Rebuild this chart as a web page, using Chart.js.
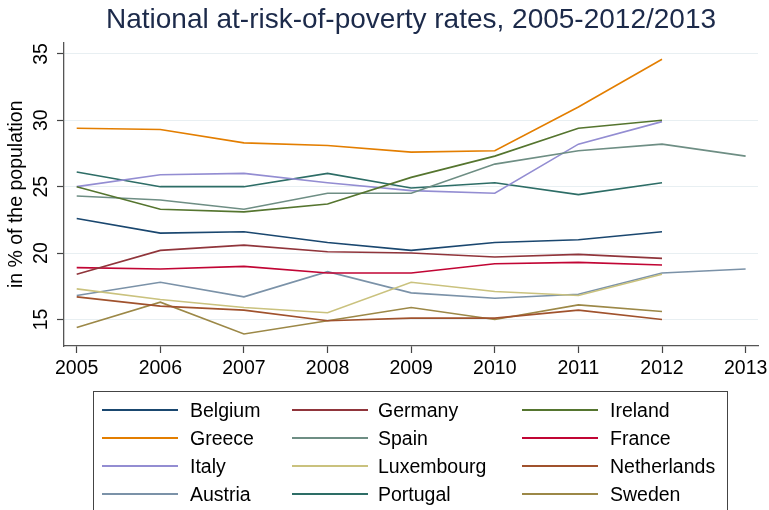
<!DOCTYPE html>
<html>
<head>
<meta charset="utf-8">
<script src="https://cdn.jsdelivr.net/npm/chart.js@4/dist/chart.umd.min.js"></script>
<style>
  html, body { margin: 0; padding: 0; background: #fff; }
  #wrap { position: relative; width: 769px; height: 510px; overflow: hidden; }
  #c { position: absolute; left: 0; top: 0; }
  #legend { position: absolute; left: 93px; top: 391px; width: 635px; height: 140px;
            border: 1px solid #444; box-sizing: border-box; font-family: "Liberation Sans", Arial, sans-serif;
            font-size: 19.5px; color: #000; }
  .item { position: absolute; height: 20px; }
  .item .ln { position: absolute; top: 9px; left: 0; width: 76px; height: 2px; }
  .item .tx { position: absolute; top: -2px; white-space: nowrap; line-height: 24px; }
</style>
</head>
<body>
<div id="wrap">
  <canvas id="c" width="769" height="510"></canvas>
  <div id="legend"></div>
</div>
<script>
const years = [2005, 2006, 2007, 2008, 2009, 2010, 2011, 2012, 2013];
const yTicks = [15, 20, 25, 30, 35];

const countries = ["Belgium", "Germany", "Ireland", "Greece", "Spain", "France",
                   "Italy", "Luxembourg", "Netherlands", "Austria", "Portugal", "Sweden"];

const belgium     = [22.6, 21.5, 21.6, 20.8, 20.2, 20.8, 21.0, 21.6];
const germany     = [18.4, 20.2, 20.6, 20.1, 20.0, 19.7, 19.9, 19.6];
const ireland     = [25.0, 23.3, 23.1, 23.7, 25.7, 27.3, 29.4, 30.0];
const greece      = [29.4, 29.3, 28.3, 28.1, 27.6, 27.7, 31.0, 34.6];
const spain       = [24.3, 24.0, 23.3, 24.5, 24.5, 26.7, 27.7, 28.2, 27.3];
const france      = [18.9, 18.8, 19.0, 18.5, 18.5, 19.2, 19.3, 19.1];
const italy       = [25.0, 25.9, 26.0, 25.3, 24.7, 24.5, 28.2, 29.9];
const luxembourg  = [17.3, 16.5, 15.9, 15.5, 17.8, 17.1, 16.8, 18.4];
const netherlands = [16.7, 16.0, 15.7, 14.9, 15.1, 15.1, 15.7, 15.0];
const austria     = [16.8, 17.8, 16.7, 18.6, 17.0, 16.6, 16.9, 18.5, 18.8];
const portugal    = [26.1, 25.0, 25.0, 26.0, 24.9, 25.3, 24.4, 25.3];
const sweden      = [14.4, 16.3, 13.9, 14.9, 15.9, 15.0, 16.1, 15.6];

const seriesValues = [belgium, germany, ireland, greece, spain, france,
                      italy, luxembourg, netherlands, austria, portugal, sweden];

const colors = ["#1a476f", "#90353b", "#55752f", "#e37e00", "#6e8e84", "#c10534",
                "#938dd2", "#cac27e", "#a0522d", "#7b92a8", "#2d6d66", "#9c8847"];

const FONT = '"Liberation Sans", Arial, sans-serif';

const datasets = countries.map((name, i) => ({
  label: name,
  data: seriesValues[i].map((v, j) => ({ x: years[j], y: v })),
  borderColor: colors[i],
  backgroundColor: colors[i],
  borderWidth: 1.6,
  pointRadius: 0,
  tension: 0,
  fill: false
}));

const chart = new Chart(document.getElementById('c'), {
  type: 'line',
  data: { datasets },
  options: {
    responsive: false,
    animation: false,
    devicePixelRatio: 1,
    layout: { padding: { left: 0, right: 11, top: 0, bottom: 0 } },
    plugins: {
      legend: { display: false },
      tooltip: { enabled: false },
      title: {
        display: true,
        fullSize: false,
        text: 'National at-risk-of-poverty rates, 2005-2012/2013',
        color: '#1c2a4a',
        font: { family: FONT, size: 28, weight: 'normal' },
        padding: { top: 3, bottom: 6 }
      }
    },
    scales: {
      x: {
        type: 'linear',
        min: 2004.848,
        max: 2013.148,
        afterBuildTicks: (s) => { s.ticks = years.map(v => ({ value: v })); },
        afterFit: (s) => { s.height = 164; s.paddingLeft = 0; s.paddingRight = 0; },
        ticks: {
          color: '#000',
          font: { family: FONT, size: 19.5 },
          padding: 4,
          maxRotation: 0,
          minRotation: 0,
          callback: (v) => String(v)
        },
        grid: { drawOnChartArea: false, drawTicks: true, tickLength: 7, tickColor: '#444', tickWidth: 1.2 },
        border: { display: true, color: '#555', width: 1.3 }
      },
      y: {
        type: 'linear',
        min: 13,
        max: 35.85,
        afterBuildTicks: (s) => { s.ticks = yTicks.map(v => ({ value: v })); },
        afterFit: (s) => { s.width = 64; },
        ticks: {
          color: '#000',
          font: { family: FONT, size: 19.5 },
          padding: 5,
          minRotation: 90,
          maxRotation: 90,
          crossAlign: 'center',
          callback: (v) => String(v)
        },
        title: {
          display: true,
          text: 'in % of the population',
          color: '#000',
          font: { family: FONT, size: 19.5 },
          padding: { top: 5, bottom: 0 }
        },
        grid: { color: '#e8eff2', lineWidth: 1, drawTicks: true, tickLength: 7, tickColor: '#444', tickWidth: 1.2 },
        border: { display: true, color: '#555', width: 1.3 }
      }
    }
  }
});

// HTML legend built from chart datasets (3 columns, row-major order)
const legend = document.getElementById('legend');
const colLine = [8, 198, 428];   // line sample left offsets inside legend box
const colText = [96, 284, 516];  // text left offsets
const rowTop = [8, 36, 64, 92];
chart.data.datasets.forEach((ds, i) => {
  const r = Math.floor(i / 3), c = i % 3;
  const ln = document.createElement('div');
  ln.className = 'item';
  ln.style.left = colLine[c] + 'px';
  ln.style.top = rowTop[r] + 'px';
  ln.innerHTML = '<div class="ln" style="background:' + ds.borderColor + '"></div>';
  legend.appendChild(ln);
  const tx = document.createElement('div');
  tx.className = 'item';
  tx.style.left = colText[c] + 'px';
  tx.style.top = rowTop[r] + 'px';
  tx.innerHTML = '<span class="tx">' + ds.label + '</span>';
  legend.appendChild(tx);
});
</script>
</body>
</html>
